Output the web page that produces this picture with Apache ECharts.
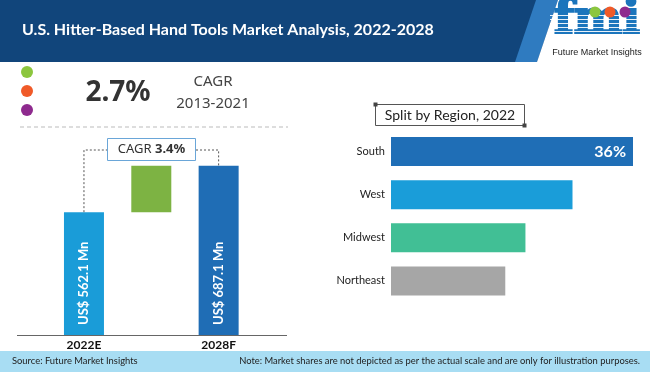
<!DOCTYPE html>
<html>
<head>
<meta charset="utf-8">
<script src="https://cdn.jsdelivr.net/npm/echarts@6/dist/echarts.min.js"></script>
<style>
html,body{margin:0;padding:0;background:#fff;}
#c{width:650px;height:372px;}
</style>
</head>
<body>
<div id="c"></div>
<script>
// ---- data ----
const chartTitle = 'U.S. Hitter-Based Hand Tools Market Analysis, 2022-2028';
const historicCagr = '2.7%';
const historicPeriod = '2013-2021';
const forecastCagr = '3.4%';
const marketYears = ['2022E', '', '2028F'];
const marketValues = [562.1, 687.1];
const regionTitle = 'Split by Region, 2022';
const regions = ['South', 'West', 'Midwest', 'Northeast'];
const regionShares = [36, 27, 20, 17];
const sourceText = 'Source: Future Market Insights';
const noteText = 'Note: Market shares are not depicted as per the actual scale and are only for illustration purposes.';

const regionColors = ['#1f6eb6', '#1a9dd9', '#41bf95', '#a6a6a6'];
const F = 'Lato, "Liberation Sans", sans-serif';

const chart = echarts.init(document.getElementById('c'), null, {renderer: 'canvas'});

const increment = +(marketValues[1] - marketValues[0]).toFixed(1);

const logoStripes = [];
for (let y = 15; y < 44; y += 4) {
  logoStripes.push({type: 'rect', shape: {x: 550, y: y, width: 95, height: 1}, style: {fill: 'rgba(255,255,255,0.9)'}, z: 12});
}

const option = {
  animation: false,
  grid: [
    {left: 50.3, right: 397.7, top: 135, bottom: 37},
    {left: 391, right: 17, top: 130, bottom: 69.5}
  ],
  xAxis: [
    {type: 'category', gridIndex: 0, data: marketYears,
     axisLine: {show: false}, axisTick: {show: false},
     axisLabel: {fontFamily: F, fontWeight: 'bold', fontSize: 12, color: '#111', margin: 4}},
    {type: 'value', gridIndex: 1, min: 0, max: 36, show: false}
  ],
  yAxis: [
    {type: 'value', gridIndex: 0, min: 231, max: 770, show: false},
    {type: 'category', gridIndex: 1, data: regions, inverse: true,
     axisLine: {show: false}, axisTick: {show: false},
     axisLabel: {fontFamily: F, fontSize: 11, color: '#222', margin: 6}}
  ],
  series: [
    {type: 'bar', xAxisIndex: 0, yAxisIndex: 0, stack: 'w', barWidth: 40,
     data: [
       {value: marketValues[0], itemStyle: {color: '#1a9cd8'}},
       {value: marketValues[0], itemStyle: {color: 'rgba(0,0,0,0)'}, label: {show: false}},
       {value: marketValues[1], itemStyle: {color: '#1f6db5'}}
     ],
     label: {show: true, rotate: 90, position: 'insideBottom', align: 'left', verticalAlign: 'middle',
       distance: 10, formatter: p => 'US$ ' + p.value + ' Mn', color: '#fff',
       fontFamily: F, fontWeight: 'bold', fontSize: 13}},
    {type: 'bar', xAxisIndex: 0, yAxisIndex: 0, stack: 'w', barWidth: 40,
     data: ['-', increment, '-'], itemStyle: {color: '#7db343'}},
    {type: 'bar', xAxisIndex: 1, yAxisIndex: 1, barWidth: 29,
     data: regionShares.map((v, i) => ({
       value: v, itemStyle: {color: regionColors[i]},
       label: {show: i === 0}
     })),
     label: {position: 'insideRight', distance: 7, formatter: '{c}%', color: '#fff',
       fontFamily: F, fontWeight: 'bold', fontSize: 16}}
  ],
  graphic: [
    // header
    {type: 'rect', shape: {x: 0, y: 0, width: 650, height: 62}, style: {fill: '#11457b'}, z: 1},
    {type: 'polygon', shape: {points: [[536, 0], [558, 0], [537, 62], [515, 62]]}, style: {fill: '#2f7bc0'}, z: 2},
    {type: 'polygon', shape: {points: [[558, 0], [650, 0], [650, 62], [537, 62]]}, style: {fill: '#ffffff'}, z: 3},
    {type: 'text', style: {text: chartTitle, x: 22, y: 30, fill: '#fff', font: 'bold 16px ' + F, verticalAlign: 'middle'}, z: 5},
    // logo
    {type: 'text', style: {text: 'fmi', x: 554, y: 44, fill: '#1b75bc', stroke: '#1b75bc', lineWidth: 2.2,
      font: 'bold 46px "DejaVu Serif", serif', align: 'left', verticalAlign: 'bottom'}, z: 10},
    ...logoStripes,
    {type: 'circle', shape: {cx: 595, cy: 12, r: 5.5}, style: {fill: '#8cc63e'}, z: 13},
    {type: 'circle', shape: {cx: 610, cy: 12, r: 5.5}, style: {fill: '#f05a28'}, z: 13},
    {type: 'circle', shape: {cx: 625, cy: 12, r: 5.5}, style: {fill: '#8e2a8e'}, z: 13},
    {type: 'text', style: {text: 'Future Market Insights', x: 597, y: 53, fill: '#222', font: '9px "Liberation Sans", sans-serif', align: 'center', verticalAlign: 'middle'}, z: 13},
    // left panel header
    {type: 'circle', shape: {cx: 27, cy: 72, r: 6}, style: {fill: '#8cc63e'}},
    {type: 'circle', shape: {cx: 27, cy: 91, r: 6}, style: {fill: '#f05a28'}},
    {type: 'circle', shape: {cx: 27, cy: 110, r: 6}, style: {fill: '#8e2a8e'}},
    {type: 'text', style: {text: historicCagr, x: 118, y: 93, fill: '#333', font: 'bold 28px "Noto Sans", sans-serif', align: 'center', verticalAlign: 'middle'}},
    {type: 'text', style: {text: 'CAGR', x: 213, y: 82, fill: '#444', font: '15px "Noto Sans", sans-serif', align: 'center', verticalAlign: 'middle'}},
    {type: 'text', style: {text: historicPeriod, x: 213, y: 104, fill: '#444', font: '15px "Noto Sans", sans-serif', align: 'center', verticalAlign: 'middle'}},
    {type: 'line', shape: {x1: 20, y1: 127, x2: 288, y2: 127}, style: {stroke: '#bbb', lineWidth: 1, lineDash: [4, 3]}},
    // CAGR box
    {type: 'rect', shape: {x: 107.5, y: 138.5, width: 88, height: 22}, style: {fill: '#fff', stroke: '#6aa6d8', lineWidth: 1}, z: 6},
    {type: 'text', style: {text: '{a|CAGR }{b|' + forecastCagr + '}', x: 151.5, y: 149.5, align: 'center', verticalAlign: 'middle',
      rich: {a: {fontFamily: '"Noto Sans", sans-serif', fontSize: 13, fill: '#333', color: '#333'},
             b: {fontFamily: '"Noto Sans", sans-serif', fontSize: 13, fontWeight: 'bold', fill: '#333', color: '#333'}}}, z: 7},
    // baseline
    {type: 'line', shape: {x1: 17, y1: 335.5, x2: 287, y2: 335.5}, style: {stroke: '#666', lineWidth: 1}, z: 8},
    // region title box
    {type: 'rect', shape: {x: 375.5, y: 104.5, width: 149, height: 21}, style: {fill: '#fff', stroke: '#555', lineWidth: 1}},
    {type: 'rect', shape: {x: 373.5, y: 102.5, width: 4, height: 4}, style: {fill: '#444'}},
    {type: 'rect', shape: {x: 522.5, y: 123.5, width: 4, height: 4}, style: {fill: '#444'}},
    {type: 'text', style: {text: regionTitle, x: 450, y: 115, fill: '#222', font: '14px ' + F, align: 'center', verticalAlign: 'middle'}},
    // footer
    {type: 'rect', shape: {x: 0, y: 351, width: 650, height: 21}, style: {fill: '#a8ddf3'}},
    {type: 'text', style: {text: sourceText, x: 12, y: 361, fill: '#222', font: '9.4px ' + F, verticalAlign: 'middle'}},
    {type: 'text', style: {text: noteText, x: 640, y: 361, fill: '#222', font: '9.4px ' + F, align: 'right', verticalAlign: 'middle'}}
  ]
};
chart.setOption(option);

// dotted bracket linking the two bar tops to the CAGR box
const p0 = chart.convertToPixel({xAxisIndex: 0, yAxisIndex: 0}, [0, marketValues[0]]);
const p2 = chart.convertToPixel({xAxisIndex: 0, yAxisIndex: 0}, [2, marketValues[1]]);
const bracketY = 150;
const dash = {stroke: '#555', lineWidth: 1, lineDash: [2, 2], fill: null};
option.graphic.push(
  {type: 'polyline', shape: {points: [[p0[0], p0[1]], [p0[0], bracketY], [107, bracketY]]}, style: dash, z: 5},
  {type: 'polyline', shape: {points: [[196, bracketY], [p2[0], bracketY], [p2[0], p2[1]]]}, style: dash, z: 5}
);
chart.setOption({graphic: option.graphic});
</script>
</body>
</html>
